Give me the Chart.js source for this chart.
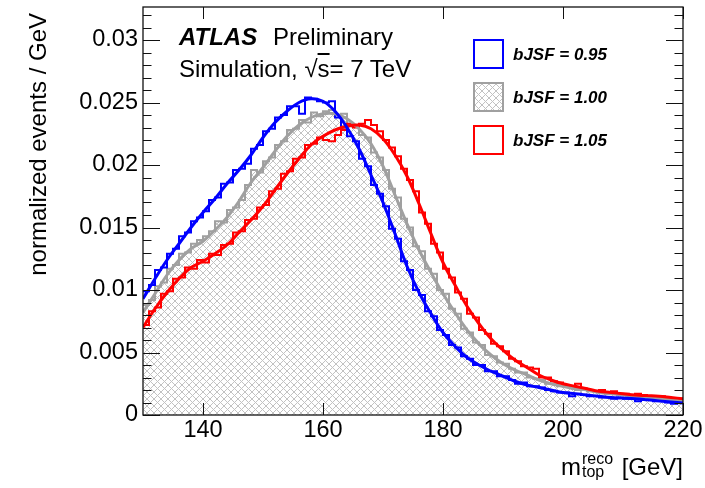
<!DOCTYPE html>
<html>
<head>
<meta charset="utf-8">
<script src="https://cdn.jsdelivr.net/npm/chart.js@4.4.1/dist/chart.umd.min.js"></script>
<style>
body { margin: 0; background: #fff; }
#wrap { position: relative; width: 705px; height: 488px; font-family: 'Liberation Sans', Arial, sans-serif; color: #000; }
#chart { position: absolute; left: 0; top: 0; }
.t { position: absolute; white-space: nowrap; font-size: 24px; line-height: 24px; }
.lb { position: absolute; left: 473px; width: 31px; height: 30px; box-sizing: border-box; border: 2px solid; }
.lt { position: absolute; left: 513px; white-space: nowrap; font: italic bold 17px 'Liberation Sans', Arial, sans-serif; line-height: 17px; }
.ss { display: inline-block; position: relative; width: 34px; height: 10px; }
.ss span { position: absolute; left: 1px; font-size: 16px; line-height: 16px; }
</style>
</head>
<body>
<div id="wrap">
  <canvas id="chart" width="705" height="488"></canvas>
  <div class="t" id="ytitle" style="left:26px; top:313px; width:300px; text-align:right; transform-origin:0 0; transform:rotate(-90deg);">normalized events / GeV</div>
  <div class="t" id="xtitle" style="right:22px; top:455px;">m<span class="ss"><span style="top:-14.5px">reco</span><span style="top:-1.5px">top</span></span> [GeV]</div>
  <div class="t" style="left:179px; top:25px; font-weight:bold; font-style:italic;">ATLAS</div>
  <div class="t" style="left:273px; top:25px;">Preliminary</div>
  <div class="t" style="left:179px; top:57px;">Simulation, √<span style="text-decoration:overline">s</span>= 7 TeV</div>
  <div class="lb" style="top:39px; border-color:#0000ff;"></div>
  <div class="lb" id="grayBox" style="top:82px; border-color:#a0a0a0;"></div>
  <div class="lb" style="top:125px; border-color:#ff0000;"></div>
  <div class="lt" style="top:45.7px;">bJSF = 0.95</div>
  <div class="lt" style="top:88.7px;">bJSF = 1.00</div>
  <div class="lt" style="top:132px;">bJSF = 1.05</div>
</div>
<script>
// histogram: 1 GeV bins from 130 to 220
const binStart = 130;
const binWidth = 1;

const histBlue = [
    0.0099, 0.0104, 0.0116, 0.0118, 0.0129, 0.0133, 0.0143, 0.0146, 0.0155, 0.0158,
    0.0163, 0.0172, 0.0174, 0.0185, 0.0186, 0.0196, 0.0197, 0.0201, 0.0213, 0.0216,
    0.0227, 0.0229, 0.0238, 0.0240, 0.0247, 0.0247, 0.0241, 0.0254, 0.0253, 0.0251,
    0.0250, 0.0251, 0.0238, 0.0230, 0.0223, 0.0219, 0.0205, 0.0199, 0.0184, 0.0177,
    0.0167, 0.0149, 0.0141, 0.0123, 0.0116, 0.0100, 0.0096, 0.0083, 0.0079, 0.0068,
    0.0064, 0.0056, 0.0054, 0.0047, 0.0045, 0.0040, 0.0040, 0.0035, 0.0035, 0.0031,
    0.0031, 0.0028, 0.0025, 0.0026, 0.0023, 0.0023, 0.0022, 0.0020, 0.0019, 0.0018,
    0.0018, 0.0015, 0.0017, 0.0016, 0.0015, 0.0015, 0.0014, 0.0014, 0.0013, 0.0014,
    0.0013, 0.0013, 0.0011, 0.0012, 0.0012, 0.0011, 0.0011, 0.0010, 0.0009, 0.0010
];
const histGray = [
    0.0088, 0.0092, 0.0103, 0.0106, 0.0117, 0.0120, 0.0129, 0.0130, 0.0137, 0.0140,
    0.0143, 0.0147, 0.0155, 0.0154, 0.0164, 0.0166, 0.0172, 0.0184, 0.0196, 0.0194,
    0.0203, 0.0206, 0.0216, 0.0219, 0.0228, 0.0229, 0.0236, 0.0234, 0.0242, 0.0239,
    0.0243, 0.0244, 0.0240, 0.0241, 0.0233, 0.0232, 0.0224, 0.0222, 0.0210, 0.0206,
    0.0196, 0.0181, 0.0174, 0.0157, 0.0150, 0.0135, 0.0131, 0.0117, 0.0113, 0.0100,
    0.0097, 0.0085, 0.0081, 0.0069, 0.0066, 0.0058, 0.0056, 0.0048, 0.0047, 0.0042,
    0.0041, 0.0037, 0.0034, 0.0034, 0.0030, 0.0029, 0.0028, 0.0025, 0.0025, 0.0023,
    0.0023, 0.0022, 0.0020, 0.0021, 0.0019, 0.0019, 0.0018, 0.0017, 0.0017, 0.0016,
    0.0016, 0.0015, 0.0015, 0.0014, 0.0014, 0.0013, 0.0013, 0.0012, 0.0012, 0.0011
];
const histRed = [
    0.0072, 0.0083, 0.0086, 0.0097, 0.0099, 0.0109, 0.0110, 0.0118, 0.0117, 0.0124,
    0.0122, 0.0129, 0.0128, 0.0136, 0.0137, 0.0146, 0.0147, 0.0156, 0.0157, 0.0166,
    0.0168, 0.0179, 0.0181, 0.0193, 0.0195, 0.0205, 0.0206, 0.0216, 0.0217, 0.0222,
    0.0220, 0.0219, 0.0224, 0.0228, 0.0233, 0.0230, 0.0233, 0.0236, 0.0232, 0.0227,
    0.0220, 0.0214, 0.0207, 0.0197, 0.0188, 0.0179, 0.0162, 0.0153, 0.0137, 0.0130,
    0.0117, 0.0110, 0.0098, 0.0093, 0.0081, 0.0078, 0.0068, 0.0065, 0.0057, 0.0055,
    0.0051, 0.0045, 0.0043, 0.0039, 0.0038, 0.0037, 0.0030, 0.0030, 0.0027, 0.0026,
    0.0024, 0.0022, 0.0025, 0.0021, 0.0020, 0.0019, 0.0020, 0.0018, 0.0019, 0.0017,
    0.0017, 0.0016, 0.0017, 0.0016, 0.0015, 0.0015, 0.0015, 0.0014, 0.0013, 0.0013
];

// fit curves, sampled every 2 GeV from 130 to 220
const fitStep = 2;
const fitBlue = [
    0.0093, 0.0109, 0.0124, 0.0137, 0.0150, 0.0162, 0.0173, 0.0185, 0.0196, 0.0208,
    0.0222, 0.0234, 0.0243, 0.0250, 0.0253, 0.0251, 0.0243, 0.0230, 0.0213, 0.0192,
    0.0170, 0.0145, 0.0119, 0.0098, 0.0081, 0.0066, 0.0055, 0.0046, 0.0040, 0.0035,
    0.0031, 0.0027, 0.0024, 0.0022, 0.0020, 0.0018, 0.0017, 0.0016, 0.0015, 0.0014,
    0.00135, 0.0013, 0.00122, 0.00113, 0.00104, 0.00096
];
const fitGray = [
    0.0082, 0.0097, 0.0112, 0.0124, 0.0133, 0.0139, 0.0148, 0.0158, 0.0171, 0.0186,
    0.0198, 0.0211, 0.0223, 0.0232, 0.0238, 0.0241, 0.0241, 0.0237, 0.0229, 0.0217,
    0.0199, 0.0176, 0.0153, 0.0132, 0.0114, 0.0097, 0.0082, 0.0068, 0.0057, 0.0048,
    0.0041, 0.0036, 0.0032, 0.0028, 0.0025, 0.0023, 0.0021, 0.0020, 0.0018, 0.0017,
    0.0016, 0.0015, 0.00142, 0.00132, 0.00122, 0.00112
];
const fitRed = [
    0.0070, 0.0085, 0.0098, 0.0109, 0.0118, 0.0123, 0.0129, 0.0136, 0.0146, 0.0156,
    0.0167, 0.0180, 0.0193, 0.0205, 0.0216, 0.0223, 0.0228, 0.0231, 0.0232, 0.0229,
    0.0221, 0.0208, 0.0191, 0.0169, 0.0145, 0.0122, 0.0104, 0.0087, 0.0073, 0.0061,
    0.0052, 0.0044, 0.0038, 0.0032, 0.0028, 0.0025, 0.0023, 0.0021, 0.0019, 0.0018,
    0.0017, 0.0016, 0.00155, 0.0015, 0.0014, 0.0013
];

const xTicks = [140, 160, 180, 200, 220];
const yTicks = [0, 0.005, 0.01, 0.015, 0.02, 0.025, 0.03];

const BLUE = '#0000ff';
const RED = '#ff0000';
const GRAY = '#a0a0a0';

// bin edges -> stepped line points (last value repeated at the right edge)
function histPoints(values) {
    const pts = values.map((v, i) => ({ x: binStart + i * binWidth, y: v }));
    pts.push({ x: binStart + values.length * binWidth, y: values[values.length - 1] });
    return pts;
}

function fitPoints(values) {
    return values.map((v, i) => ({ x: binStart + i * fitStep, y: v }));
}

function hatchTile() {
    const c = document.createElement('canvas');
    c.width = 7; c.height = 7;
    const g = c.getContext('2d');
    g.fillStyle = '#fff';
    g.fillRect(0, 0, 7, 7);
    g.strokeStyle = '#c2c2c2';
    g.lineWidth = 1;
    g.beginPath();
    g.moveTo(0, 0); g.lineTo(7, 7);
    g.moveTo(7, 0); g.lineTo(0, 7);
    g.stroke();
    return c;
}

const tile = hatchTile();
const ctx = document.getElementById('chart').getContext('2d');
const hatch = ctx.createPattern(tile, 'repeat');
document.getElementById('grayBox').style.backgroundImage = `url(${tile.toDataURL()})`;

// ROOT style frame with inward ticks
const frameTicks = {
    id: 'frameTicks',
    afterDatasetsDraw(chart) {
        const { ctx, chartArea: a, scales: { x, y } } = chart;
        ctx.save();
        ctx.strokeStyle = '#111';
        ctx.lineWidth = 1;
        ctx.beginPath();
        for (let i = 0; i <= 32; i++) {
            const py = Math.round(y.getPixelForValue(i / 1000)) + 0.5;
            const len = i % 5 === 0 ? 17 : 8.5;
            ctx.moveTo(a.left, py); ctx.lineTo(a.left + len, py);
            ctx.moveTo(a.right, py); ctx.lineTo(a.right - len, py);
        }
        xTicks.forEach(v => {
            const px = Math.round(x.getPixelForValue(v)) + 0.5;
            ctx.moveTo(px, a.bottom); ctx.lineTo(px, a.bottom - 12);
            ctx.moveTo(px, a.top); ctx.lineTo(px, a.top + 12);
        });
        ctx.stroke();
        ctx.lineWidth = 1.3;
        ctx.strokeRect(a.left, a.top, a.right - a.left, a.bottom - a.top);
        ctx.restore();
    }
};

const tickFont = { family: "'Liberation Sans', Arial, sans-serif", size: 23.5, lineHeight: 1 };

new Chart(ctx, {
    type: 'line',
    data: {
        datasets: [
            { data: fitPoints(fitBlue), borderColor: BLUE, borderWidth: 3, tension: 0.4, order: 1 },
            { data: fitPoints(fitRed), borderColor: RED, borderWidth: 3, tension: 0.4, order: 2 },
            { data: fitPoints(fitGray), borderColor: GRAY, borderWidth: 3, tension: 0.4, order: 3 },
            { data: histPoints(histBlue), borderColor: BLUE, borderWidth: 2, stepped: true, order: 4 },
            { data: histPoints(histRed), borderColor: RED, borderWidth: 2, stepped: true, order: 5 },
            { data: histPoints(histGray), borderColor: GRAY, borderWidth: 2, stepped: true, order: 6,
              fill: 'origin', backgroundColor: hatch }
        ]
    },
    options: {
        responsive: false,
        animation: false,
        events: [],
        layout: { padding: { left: 0, right: 22, top: 7, bottom: 0 } },
        elements: { point: { radius: 0 }, line: { borderJoinStyle: 'miter' } },
        plugins: { legend: { display: false }, tooltip: { enabled: false } },
        scales: {
            x: {
                type: 'linear', min: 130, max: 220,
                grid: { display: false, drawTicks: false },
                border: { display: false },
                afterBuildTicks: s => { s.ticks = xTicks.map(v => ({ value: v })); },
                afterFit: s => { s.height = 73; s.paddingLeft = 0; s.paddingRight = 0; },
                ticks: { font: tickFont, color: '#000', padding: 4, maxRotation: 0, autoSkip: false }
            },
            y: {
                type: 'linear', min: 0, max: 0.03264,
                grid: { display: false, drawTicks: false },
                border: { display: false },
                afterBuildTicks: s => { s.ticks = yTicks.map(v => ({ value: v })); },
                afterFit: s => { s.width = 143; s.paddingTop = 0; s.paddingBottom = 0; },
                ticks: { font: tickFont, color: '#000', padding: 5, callback: v => String(+v.toFixed(3)) }
            }
        }
    },
    plugins: [frameTicks]
});
</script>
</body>
</html>
